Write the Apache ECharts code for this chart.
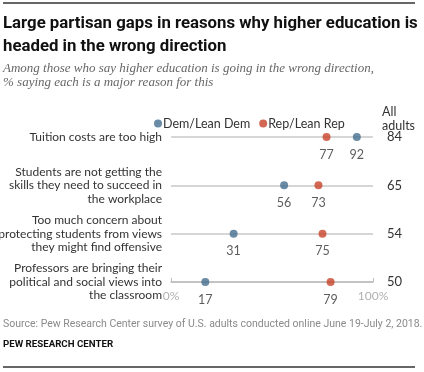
<!DOCTYPE html>
<html><head><meta charset="utf-8">
<script src="https://cdn.jsdelivr.net/npm/echarts@6/dist/echarts.min.js"></script>
<style>html,body{margin:0;padding:0;background:#fff}#c{width:424px;height:372px}</style>
</head><body><div id="c"></div>
<script>
var categories = [
  'Tuition costs are too high',
  'Students are not getting the\nskills they need to succeed in\nthe workplace',
  'Too much concern about\nprotecting students from views\nthey might find offensive',
  'Professors are bringing their\npolitical and social views into\nthe classroom'
];
var demValues = [92, 56, 31, 17];
var repValues = [77, 73, 75, 79];
var allAdults = [84, 65, 54, 50];
var xTicks = ['0%', '100%'];

var FONT = 'Lato';
var chart = echarts.init(document.getElementById('c'), null, {renderer: 'canvas'});
chart.setOption({
  animation: false,
  textStyle: {fontFamily: FONT},
  grid: {left: 171, width: 202, top: 137, bottom: 90, containLabel: false, outerBoundsMode: 'none'},
  legend: {
    left: 149, top: 112, itemWidth: 8, itemHeight: 8, itemGap: 9,
    icon: 'circle',
    textStyle: {fontSize: 12.5, color: '#333', fontFamily: FONT, padding: [0, 0, 0, -4]},
    data: ['Dem/Lean Dem', 'Rep/Lean Rep']
  },
  xAxis: {
    type: 'value', min: 0, max: 100, interval: 100,
    axisLine: {show: true, lineStyle: {color: '#bdbdbd', width: 1.5}},
    axisTick: {show: true, length: 4, inside: true, lineStyle: {color: '#bdbdbd'}},
    splitLine: {show: false},
    axisLabel: {color: '#b0b0b0', fontSize: 12, margin: 8,
      formatter: function (v) { return v === 0 ? xTicks[0] : xTicks[1]; }}
  },
  yAxis: [{
    type: 'category', data: categories, inverse: true, boundaryGap: false,
    axisLine: {show: false}, axisTick: {show: false},
    splitLine: {show: true, lineStyle: {color: '#c8c8c8', width: 1.5}},
    axisLabel: {color: '#333', fontSize: 12, fontFamily: FONT, lineHeight: 13.5, margin: 9, align: 'right',
      interval: 0, hideOverlap: false, padding: [0, 0, 10, 0]}
  }, {
    type: 'category', data: allAdults.map(String), inverse: true, boundaryGap: false,
    position: 'right',
    axisLine: {show: false}, axisTick: {show: false}, splitLine: {show: false},
    axisLabel: {color: '#333', fontSize: 13, margin: 14, align: 'left', interval: 0}
  }],
  graphic: [
    {type: 'line', shape: {x1: 3, y1: 3, x2: 415, y2: 3}, style: {stroke: '#333', lineWidth: 1.5}},
    {type: 'line', shape: {x1: 3, y1: 367, x2: 415, y2: 367}, style: {stroke: '#333', lineWidth: 1.5}},
    {type: 'text', left: 3, top: 12, style: {text: 'Large partisan gaps in reasons why higher education is\nheaded in the wrong direction',
      fontSize: 16.8, fontWeight: 'bold', fontFamily: 'Roboto', fill: '#111', lineHeight: 23}},
    {type: 'text', left: 3, top: 61, style: {text: 'Among those who say higher education is going in the wrong direction,\n% saying each is a major reason for this',
      fontSize: 13, fontStyle: 'italic', fontFamily: 'Liberation Serif', fill: '#666', lineHeight: 14.5}},
    {type: 'text', left: 382, top: 105, style: {text: 'All\nadults', fontSize: 12.5, fontFamily: FONT, fill: '#333', align: 'center', lineHeight: 14}},
    {type: 'text', left: 3, top: 319, style: {text: 'Source: Pew Research Center survey of U.S. adults conducted online June 19-July 2, 2018.',
      fontSize: 10.5, fontFamily: 'Roboto', fill: '#8a8a8a'}},
    {type: 'text', left: 3, top: 340, style: {text: 'PEW RESEARCH CENTER', fontSize: 9.7, fontWeight: 'bold', fontFamily: 'Roboto', fill: '#111'}}
  ],
  series: [{
    name: 'Dem/Lean Dem', type: 'scatter', symbolSize: 8, itemStyle: {color: '#436e8e'},
    data: demValues.map(function (v, i) { return [v, i]; }),
    label: {show: true, position: 'bottom', distance: 7, fontSize: 12.5, color: '#333',
      formatter: function (p) { return p.value[0]; }}
  }, {
    name: 'Rep/Lean Rep', type: 'scatter', symbolSize: 8, itemStyle: {color: '#c8442b'},
    data: repValues.map(function (v, i) { return [v, i]; }),
    label: {show: true, position: 'bottom', distance: 7, fontSize: 12.5, color: '#333',
      formatter: function (p) { return p.value[0]; }}
  }]
});
</script></body></html>
